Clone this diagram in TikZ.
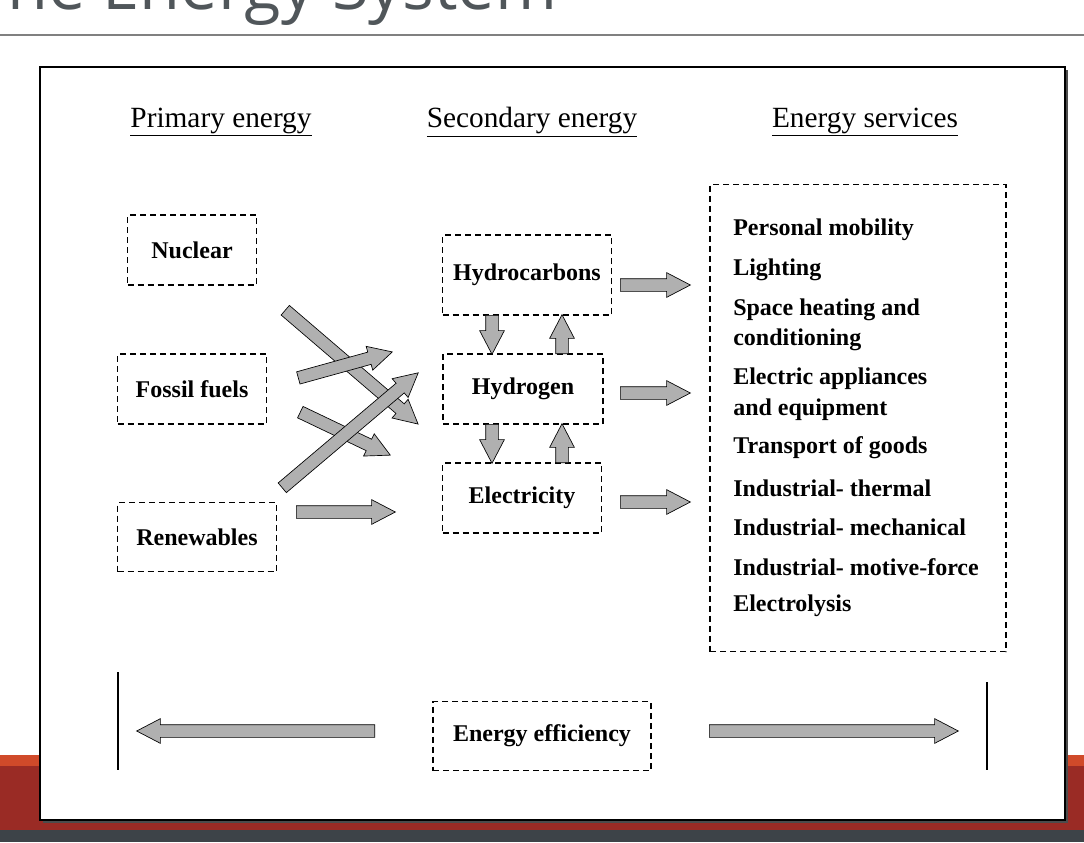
\documentclass[tikz,border=0pt]{standalone}
\usepackage{fontspec}
\setmainfont{Liberation Serif}
\newfontfamily\titlefont{Open Sans}
\usetikzlibrary{shapes.arrows,calc}

\definecolor{slidered}{HTML}{9A2B25}
\definecolor{slideorange}{HTML}{D04A2A}
\definecolor{slidegray}{HTML}{3D4348}
\definecolor{arrowgray}{HTML}{B0B0B0}

\tikzset{
    dashbox/.style={draw, line width=1.3pt, dash pattern=on 4.5pt off 3pt, font=\fontsize{18}{20}\selectfont\bfseries},
    header/.style={font=\fontsize{22}{24}\selectfont},
    service/.style={anchor=west, inner sep=0pt, font=\fontsize{18}{20}\selectfont\bfseries},
    fatarrow/.style={single arrow, draw, fill=arrowgray, line width=0.5pt, inner sep=4.5pt,
        single arrow head extend=4.5pt, single arrow tip angle=55, anchor=tail}
}

% grey block arrow from one named coordinate to another
\newcommand{\blockarrow}[2]{%
    \path let \p1=($(#2)-(#1)$), \n1={atan2(\y1,\x1)}, \n2={veclen(\x1,\y1)} in
        node[fatarrow, minimum height=\n2, rotate=\n1] at (#1) {};
}

\begin{document}
\begin{tikzpicture}[x=0.75pt, y=-0.75pt]
    \useasboundingbox (0,0) rectangle (1084,842);

    % slide background
    \fill[slideorange] (0,755) rectangle (1084,766);
    \fill[slidered] (0,766) rectangle (1084,830);
    \fill[slidegray] (0,830) rectangle (1084,842);
    \node[anchor=base west, inner sep=0pt, text=slidegray!90, font=\titlefont\fontsize{50}{54}\selectfont] (title) at (-30,10) {The Energy System};
    \draw[gray, line width=0.8pt] (0,35) -- (1084,35);

    % frame
    \fill[black!70] (43,70) rectangle (1068,823);
    \draw[fill=white, line width=1.5pt] (40,67) rectangle (1065,820);

    % headers
    \node[header] (hprim) at (221,122) {\underline{Primary energy}};
    \node[header] (hsec) at (532,122) {\underline{Secondary energy}};
    \node[header] (hserv) at (865,122) {\underline{Energy services}};

    % primary
    \node[dashbox, minimum width=129pt*0.75, minimum height=70pt*0.75] (nuclear) at (192,250) {Nuclear};
    \node[dashbox, minimum width=149pt*0.75, minimum height=70pt*0.75, inner sep=1pt] (fossil) at (192,389) {Fossil fuels};
    \node[dashbox, minimum width=159pt*0.75, minimum height=69pt*0.75] (renew) at (197,537) {Renewables};

    % secondary
    \node[dashbox, minimum width=169pt*0.75, minimum height=80pt*0.75, inner sep=1pt] (hydroc) at (527,275) {Hydrocarbons};
    \node[dashbox, minimum width=160pt*0.75, minimum height=70pt*0.75] (hydrog) at (523,389) {Hydrogen};
    \node[dashbox, minimum width=159pt*0.75, minimum height=70pt*0.75] (elec) at (522,498) {Electricity};

    % services
    \node[dashbox, minimum width=296pt*0.75, minimum height=467pt*0.75] (serv) at (858,418) {};
    \foreach \y/\t [count=\i] in {230/Personal mobility, 270/Lighting, 310/Space heating and,
        340/conditioning, 379/Electric appliances, 410/and equipment, 448/Transport of goods,
        488/Industrial- thermal, 527/Industrial- mechanical, 567/Industrial- motive-force,
        606/Electrolysis}
        \node[service] (s\i) at (733,\y) {\t};

    % efficiency
    \node[dashbox, minimum width=218pt*0.75, minimum height=69pt*0.75, inner sep=1pt] (eff) at (542,736) {Energy efficiency};
    \draw[line width=1.5pt] (118,672) -- (118,770);
    \draw[line width=1.5pt] (987,682) -- (987,770);

    % arrow end points
    \coordinate (a1) at (285,310); \coordinate (b1) at (418,424);
    \coordinate (a2) at (298,378); \coordinate (b2) at (392,352);
    \coordinate (a3) at (300,412); \coordinate (b3) at (390,455);
    \coordinate (a4) at (282,488); \coordinate (b4) at (418,373);
    \coordinate (a5) at (296,512); \coordinate (b5) at (395,512);
    \foreach \i in {1,...,5} {
        \blockarrow{a\i}{b\i}
    }

    \foreach \y [count=\i] in {285,393,502} {
        \coordinate (r\i) at (620,\y); \coordinate (q\i) at (690,\y);
        \blockarrow{r\i}{q\i}
    }

    \coordinate (d1) at (492,315); \coordinate (e1) at (492,354);
    \coordinate (d2) at (562,354); \coordinate (e2) at (562,315);
    \coordinate (d3) at (492,424); \coordinate (e3) at (492,463);
    \coordinate (d4) at (562,463); \coordinate (e4) at (562,424);
    \foreach \i in {1,...,4} {
        \blockarrow{d\i}{e\i}
    }

    \coordinate (lf) at (375,731); \coordinate (lt) at (137,731);
    \coordinate (rf) at (709,731); \coordinate (rt) at (958,731);
    \blockarrow{lf}{lt}
    \blockarrow{rf}{rt}
\end{tikzpicture}
\end{document}
